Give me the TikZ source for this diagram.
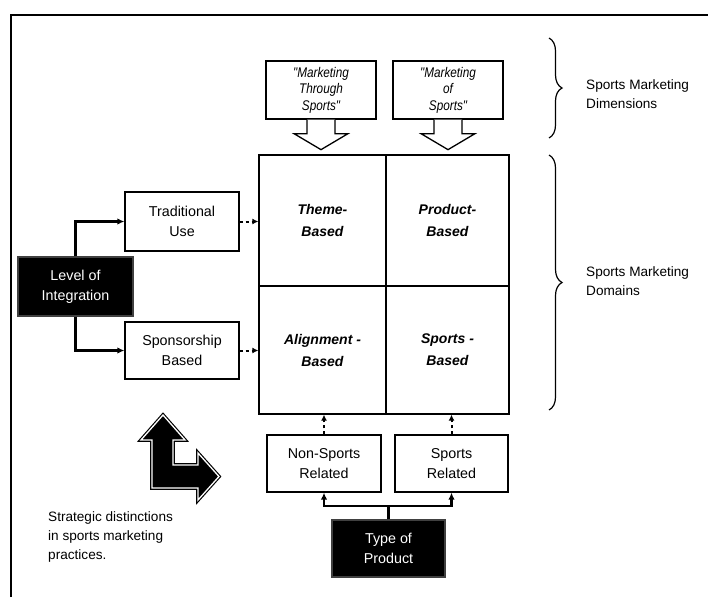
\documentclass[tikz,border=0pt]{standalone}
\usepackage{fontspec}
\setmainfont{Liberation Sans}
\newfontfamily\narrowfont[FakeStretch=0.84]{Liberation Sans}
\usetikzlibrary{arrows.meta,decorations.pathreplacing,calc}
\begin{document}
\begin{tikzpicture}[x=1pt,y=-1pt,
  box/.style={draw, line width=1.3pt, fill=white, minimum width=114pt, minimum height=57pt,
    align=center, inner sep=0pt, font=\fontsize{14.3}{20}\selectfont},
  topbox/.style={box, minimum width=110pt, minimum height=58pt,
    font=\narrowfont\itshape\fontsize{14}{16.5}\selectfont},
  darkbox/.style={box, fill=black, text=white, draw=black!75},
  gridcell/.style={draw, line width=1.3pt, inner sep=0pt, align=center,
    font=\bfseries\itshape\fontsize{14}{22}\selectfont},
  lbl/.style={align=left, inner sep=0pt, font=\fontsize{13.6}{19}\selectfont},
  thickarrow/.style={line width=2.2pt, -{Latex[length=7pt,width=6.5pt]}},
  dasharrow/.style={line width=2pt, dash pattern=on 3.5pt off 2.5pt, -{Latex[length=6pt,width=6pt]}},
  hollowarrow/.style={draw, line width=1.3pt, fill=white, line join=miter},
  bracestyle/.style={decorate, decoration={brace, amplitude=13pt}, line width=1.2pt},
]
\useasboundingbox (0,0) rectangle (708,597);
% frame
\draw[line width=2.2pt] (11,597) -- (11,15) -- (708,15);

% grid of domains
\node[gridcell, minimum width=127pt, minimum height=131pt] (theme) at (322.5,220.5) {Theme-\\Based};
\node[gridcell, minimum width=123pt, minimum height=131pt] (product) at (447.5,220.5) {Product-\\Based};
\node[gridcell, minimum width=127pt, minimum height=128pt] (align) at (322.5,350) {Alignment -\\Based};
\node[gridcell, minimum width=123pt, minimum height=128pt] (sports) at (447.5,350) {Sports -\\Based};

% dimensions
\node[topbox] (topA) at (321,90) {"Marketing\\Through\\Sports"};
\node[topbox] (topB) at (448,90) {"Marketing\\of\\Sports"};
\foreach \b in {topA,topB}{
  \draw[hollowarrow] ($(\b.south)+(-14,0)$) -- ++(0,14) -- ++(-13,0)
    -- ($(\b.south)+(0,30)$) -- ($(\b.south)+(27,14)$) -- ++(-13,0)
    -- ($(\b.south)+(14,0)$);
}

% level of integration
\node[box, minimum height=59pt] (trad) at (182,221.5) {Traditional\\Use};
\node[box] (spons) at (182,350.5) {Sponsorship\\Based};
\node[darkbox, minimum width=115pt, minimum height=59pt] (level) at (75.5,286.5) {Level of\\Integration};
\draw[thickarrow] (level.north) |- (trad.west);
\draw[thickarrow] (level.south) |- (spons.west);
\draw[dasharrow] (trad.east) -- (trad.east -| theme.west);
\draw[dasharrow] (spons.east) -- (spons.east -| align.west);

% type of product
\node[box] (nonsp) at (324,463.5) {Non-Sports\\Related};
\node[box, minimum width=113pt] (sprel) at (451.5,463.5) {Sports\\Related};
\node[darkbox, minimum width=113pt] (type) at (388.5,548.5) {Type of\\Product};
\coordinate (j) at ($(type.north)+(0,-13)$);
\draw[line width=2.2pt] (type.north) -- (j);
\draw[thickarrow] (j) -| (nonsp.south);
\draw[thickarrow] (j) -| (sprel.south);
\draw[dasharrow] (nonsp.north) -- (nonsp.north |- align.south);
\draw[dasharrow] (sprel.north) -- (sprel.north |- sports.south);

% braces and labels
\draw[bracestyle] (549,38) -- (549,138);
\node[lbl, anchor=west] (dimlab) at (586,94) {Sports Marketing\\Dimensions};
\draw[bracestyle] (549,155) -- (549,410);
\node[lbl, anchor=west] (domlab) at (586,281) {Sports Marketing\\Domains};

% L-shaped arrow
\def\Larrow{(163,415) -- (185,440) -- (173,440) -- (173,465) -- (198,465) -- (198,453)
  -- (219,476.5) -- (198,500) -- (198,488) -- (152,488) -- (152,440) -- (141,440) -- cycle}
\fill[black, draw=black, line width=3.6pt, line join=miter] \Larrow;
\draw[white, line width=1.3pt, line join=miter] \Larrow;
\node[lbl, anchor=west] (strat) at (48,537) {Strategic distinctions\\in sports marketing\\practices.};
\end{tikzpicture}
\end{document}
